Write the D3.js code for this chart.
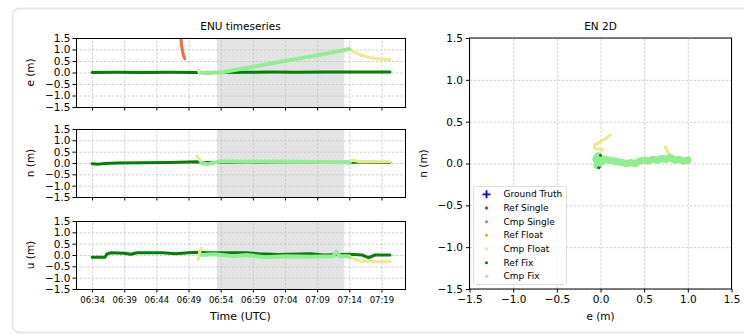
<!DOCTYPE html>
<html>
<head>
<meta charset="utf-8">
<script src="https://cdn.jsdelivr.net/npm/d3@7"></script>
<style>
  body { margin: 0; background: #fff; }
  svg { display: block; font-family: "DejaVu Sans", sans-serif; }
</style>
</head>
<body>
<svg id="chart" width="744" height="335"></svg>
<script>
// tick labels
const timeTicks = ["06:34:00", "06:39:00", "06:44:00", "06:49:00", "06:54:00", "06:59:00", "07:04:00", "07:09:00", "07:14:00", "07:19:00"];
const enuTicks = [1.5, 1.0, 0.5, 0.0, -0.5, -1.0, -1.5];
const en2dTicks = [-1.5, -1.0, -0.5, 0.0, 0.5, 1.0, 1.5];
const shadeSpan = ["06:53:24", "07:13:14"];

// east timeseries, null = gap
const refFixE = [["06:34:00", 0.0], ["06:38:00", 0.01], ["06:42:00", 0.0], ["06:46:00", 0.01], ["06:50:00", 0.0],
  ["06:54:00", 0.0], ["06:58:00", 0.01], ["07:02:00", 0.02], ["07:06:00", 0.01], ["07:10:00", 0.02], ["07:14:00", 0.02], ["07:20:20", 0.02]];
const cmpSingleE = [["06:47:45", 1.6], ["06:47:55", 1.2], ["06:48:05", 0.9], ["06:48:15", 0.7], ["06:48:25", 0.6]];
const cmpFloatE = [["06:50:30", 0.1], ["06:50:40", 0.0], ["06:50:50", -0.05], ["06:51:00", 0.0], null,
  ["07:14:10", 1.0], ["07:15:00", 0.85], ["07:16:00", 0.74], ["07:17:00", 0.66], ["07:18:00", 0.61], ["07:19:00", 0.58], ["07:20:20", 0.56]];
const cmpFixE = [["06:51:00", 0.0], ["06:52:00", -0.03], ["06:53:00", 0.0], ["06:54:00", 0.0],
  ["07:00:00", 0.3], ["07:05:00", 0.55], ["07:10:00", 0.8], ["07:14:00", 1.02]];

// north timeseries
const refFixN = [["06:34:00", -0.03], ["06:35:00", -0.05], ["06:36:00", -0.02], ["06:38:00", 0.0], ["06:42:00", 0.01],
  ["06:46:00", 0.02], ["06:49:00", 0.04], ["06:50:30", 0.05], ["06:51:00", 0.02], ["06:55:00", 0.02], ["07:00:00", 0.03],
  ["07:04:00", 0.05], ["07:08:00", 0.03], ["07:12:00", 0.02], ["07:14:00", 0.03], ["07:17:00", 0.03], ["07:20:20", 0.02]];
const cmpFloatN = [["06:50:20", 0.3], ["06:50:40", 0.15], ["06:51:00", 0.05], null,
  ["07:14:00", 0.05], ["07:14:30", 0.12], ["07:15:30", 0.06], ["07:20:20", 0.05]];
const cmpFixN = [["06:51:00", 0.0], ["06:52:00", -0.05], ["06:54:00", 0.08], ["06:58:00", 0.06], ["07:02:00", 0.07],
  ["07:06:00", 0.05], ["07:10:00", 0.04], ["07:13:30", 0.03], ["07:14:00", 0.0]];

// up timeseries
const refFixU = [["06:34:00", -0.1], ["06:36:00", -0.1], ["06:36:20", 0.05], ["06:37:00", 0.1], ["06:39:00", 0.08],
  ["06:40:00", 0.03], ["06:41:00", 0.1], ["06:45:00", 0.1], ["06:47:00", 0.05], ["06:49:00", 0.1], ["06:51:00", 0.12],
  ["06:52:00", 0.1], ["06:58:00", 0.1], ["07:00:00", 0.05], ["07:03:00", 0.02], ["07:08:00", 0.05], ["07:10:00", 0.0],
  ["07:14:00", 0.03], ["07:16:00", 0.0], ["07:17:00", -0.12], ["07:18:00", 0.0], ["07:20:20", 0.0]];
const cmpFloatU = [["06:50:30", -0.2], ["06:50:45", 0.15], ["06:51:00", 0.3], null,
  ["07:14:00", -0.1], ["07:15:00", -0.2], ["07:16:00", -0.3], ["07:17:00", -0.25], ["07:18:00", -0.3], ["07:20:20", -0.3]];
const cmpFixU = [["06:51:00", 0.0], ["06:53:00", 0.03], ["06:56:00", -0.05], ["06:58:00", 0.0], ["07:01:00", -0.1],
  ["07:04:00", -0.05], ["07:08:00", -0.08], ["07:11:30", -0.05], ["07:12:00", 0.15], ["07:12:30", -0.05], ["07:14:00", -0.05]];

// EN 2D points [e, n]
const groundTruthEN = [[0.0, 0.0]];
const cmpFixEN = [[-0.05, 0.05], [-0.03, 0.09], [0.0, 0.06], [-0.04, -0.02], [0.02, 0.03], [0.05, 0.05], [0.1, 0.04],
  [0.15, 0.03], [0.2, 0.02], [0.25, 0.01], [0.3, 0.0], [0.35, 0.01], [0.4, 0.0], [0.45, 0.03], [0.5, 0.04], [0.55, 0.03],
  [0.6, 0.05], [0.65, 0.04], [0.7, 0.06], [0.75, 0.05], [0.8, 0.07], [0.85, 0.04], [0.9, 0.05], [0.95, 0.03], [1.0, 0.04]];
const cmpFloatEN = [[0.11, 0.34], [0.05, 0.29], [-0.02, 0.25], [-0.07, 0.22], [-0.07, 0.18], [0.0, 0.17], [0.03, 0.16], null,
  [0.74, 0.2], [0.78, 0.12], [0.82, 0.08], [0.9, 0.03], [0.93, 0.0]];
const refFixEN = [[0.0, 0.1], [-0.02, -0.05]];

const legendNames = ["Ground Truth", "Ref Single", "Cmp Single", "Ref Float", "Cmp Float", "Ref Fix", "Cmp Fix"];
const legendColors = ["blue", "red", "tomato", "orange", "khaki", "green", "lightgreen"];

const svg = d3.select('#chart');
const parseT = d3.timeParse('%H:%M:%S');
const fmt = d => d3.format('.1f')(d).replace('-', '\u2212');

// card behind everything
svg.append('rect')
  .attr('x', 12.5).attr('y', 8.5).attr('width', 760).attr('height', 324)
  .attr('rx', 7).attr('fill', '#fff').attr('stroke', '#e5e7eb').attr('stroke-width', 2);

// grid style helper
function gridStyle(sel) {
  sel.select('.domain').remove();
  sel.selectAll('line').attr('stroke', '#c4c4c4').attr('stroke-width', 0.8).attr('stroke-dasharray', '2.5,1.5');
}
function labelStyle(size) {
  return sel => {
    sel.select('.domain').remove();
    sel.selectAll('text').attr('font-size', size).attr('font-family', 'DejaVu Sans').attr('fill', '#000');
  };
}

// shared time scale for the three stacked panels
const xTime = d3.scaleTime()
  .domain([parseT("06:31:30"), parseT("07:22:40")])
  .range([76, 405]);
const timeTickValues = timeTicks.map(parseT);

const panels = [
  { top: 38, bottom: 107, label: 'e (m)', ref: refFixE, series: [[cmpSingleE, 'tomato'], [cmpFloatE, 'khaki']], cmp: cmpFixE },
  { top: 129, bottom: 197, label: 'n (m)', ref: refFixN, series: [[cmpFloatN, 'khaki']], cmp: cmpFixN },
  { top: 221, bottom: 289, label: 'u (m)', ref: refFixU, series: [[cmpFloatU, 'khaki']], cmp: cmpFixU }
];

svg.append('defs').selectAll('clipPath')
  .data(panels).enter().append('clipPath')
  .attr('id', (d, i) => 'clip' + i)
  .append('rect')
  .attr('x', 76).attr('y', d => d.top).attr('width', 329).attr('height', d => d.bottom - d.top);

panels.forEach((p, i) => {
  const y = d3.scaleLinear().domain([-1.5, 1.5]).range([p.bottom, p.top]);
  const g = svg.append('g');

  // shaded span
  g.append('rect')
    .attr('x', xTime(parseT(shadeSpan[0])))
    .attr('y', p.top)
    .attr('width', xTime(parseT(shadeSpan[1])) - xTime(parseT(shadeSpan[0])))
    .attr('height', p.bottom - p.top)
    .attr('fill', '#e3e3e3');

  // grid
  g.append('g').attr('transform', `translate(0,${p.bottom})`)
    .call(d3.axisBottom(xTime).tickValues(timeTickValues).tickSize(-(p.bottom - p.top)).tickFormat(''))
    .call(gridStyle);
  g.append('g').attr('transform', 'translate(76,0)')
    .call(d3.axisLeft(y).tickValues(enuTicks).tickSize(-329).tickFormat(''))
    .call(gridStyle);

  const line = d3.line().defined(d => d !== null)
    .x(d => xTime(parseT(d[0]))).y(d => y(d[1]));
  const plot = g.append('g').attr('clip-path', `url(#clip${i})`);
  plot.append('path').attr('d', line(p.ref)).attr('fill', 'none')
    .attr('stroke', 'green').attr('stroke-width', 3).attr('stroke-linejoin', 'round').attr('stroke-linecap', 'round');
  p.series.forEach(([data, color]) => {
    plot.append('path').attr('d', line(data)).attr('fill', 'none')
      .attr('stroke', color).attr('stroke-width', 3).attr('stroke-linejoin', 'round').attr('stroke-linecap', 'round');
  });
  plot.append('path').attr('d', line(p.cmp)).attr('fill', 'none')
    .attr('stroke', 'lightgreen').attr('stroke-width', 4).attr('stroke-linejoin', 'round').attr('stroke-linecap', 'round');

  // axes
  g.append('g').attr('transform', 'translate(76,0)')
    .call(d3.axisLeft(y).tickValues(enuTicks).tickSize(3.5).tickPadding(2).tickFormat(fmt))
    .call(labelStyle(10.5));
  g.append('g').attr('transform', `translate(0,${p.bottom})`)
    .call(d3.axisBottom(xTime).tickValues(timeTickValues).tickSize(3.5).tickPadding(4)
      .tickFormat(i === 2 ? d3.timeFormat('%H:%M') : ''))
    .call(labelStyle(8.5));

  g.append('rect').attr('x', 76.5).attr('y', p.top + 0.5).attr('width', 329).attr('height', p.bottom - p.top)
    .attr('fill', 'none').attr('stroke', '#000').attr('stroke-width', 1);

  g.append('text').attr('transform', `translate(30,${(p.top + p.bottom) / 2}) rotate(-90)`)
    .attr('text-anchor', 'middle').attr('dy', '0.35em').attr('font-size', 10.5).text(p.label);
});

svg.append('text').attr('x', 240.5).attr('y', 30).attr('text-anchor', 'middle').attr('font-size', 10.5).text('ENU timeseries');
svg.append('text').attr('x', 240.5).attr('y', 320).attr('text-anchor', 'middle').attr('font-size', 11).text('Time (UTC)');

// EN 2D panel
const xE = d3.scaleLinear().domain([-1.5, 1.5]).range([469.5, 731.5]);
const yN = d3.scaleLinear().domain([-1.5, 1.5]).range([289, 38]);
const g2 = svg.append('g');

g2.append('g').attr('transform', 'translate(0,289)')
  .call(d3.axisBottom(xE).tickValues(en2dTicks).tickSize(-251).tickFormat(''))
  .call(gridStyle);
g2.append('g').attr('transform', 'translate(469.5,0)')
  .call(d3.axisLeft(yN).tickValues(en2dTicks).tickSize(-262).tickFormat(''))
  .call(gridStyle);

const line2 = d3.line().defined(d => d !== null).x(d => xE(d[0])).y(d => yN(d[1]));

g2.selectAll('.gt').data(groundTruthEN).enter().append('path')
  .attr('d', d => `M${xE(d[0]) - 4},${yN(d[1])}h8M${xE(d[0])},${yN(d[1]) - 4}v8`)
  .attr('stroke', 'blue').attr('stroke-width', 1.5);
g2.append('path').attr('d', line2(cmpFloatEN)).attr('fill', 'none').attr('stroke', 'khaki')
  .attr('stroke-width', 3).attr('stroke-linejoin', 'round').attr('stroke-linecap', 'round');
g2.append('path').attr('d', line2(cmpFixEN)).attr('fill', 'none').attr('stroke', 'lightgreen')
  .attr('stroke-width', 7).attr('stroke-linejoin', 'round').attr('stroke-linecap', 'round');
g2.selectAll('.cf').data(cmpFixEN).enter().append('circle')
  .attr('cx', d => xE(d[0])).attr('cy', d => yN(d[1])).attr('r', 3.5).attr('fill', 'lightgreen');
g2.selectAll('.rf').data(refFixEN).enter().append('circle')
  .attr('cx', d => xE(d[0])).attr('cy', d => yN(d[1])).attr('r', 1.5).attr('fill', 'green');

g2.append('g').attr('transform', 'translate(469.5,0)')
  .call(d3.axisLeft(yN).tickValues(en2dTicks).tickSize(3.5).tickPadding(3).tickFormat(fmt))
  .call(labelStyle(10.5));
g2.append('g').attr('transform', 'translate(0,289)')
  .call(d3.axisBottom(xE).tickValues(en2dTicks).tickSize(3.5).tickPadding(3).tickFormat(fmt))
  .call(labelStyle(10.5));
g2.append('rect').attr('x', 469.5).attr('y', 38).attr('width', 262).attr('height', 251)
  .attr('fill', 'none').attr('stroke', '#000').attr('stroke-width', 1);

svg.append('text').attr('x', 600.5).attr('y', 30).attr('text-anchor', 'middle').attr('font-size', 10.5).text('EN 2D');
svg.append('text').attr('x', 600.5).attr('y', 320).attr('text-anchor', 'middle').attr('font-size', 10.5).text('e (m)');
svg.append('text').attr('transform', 'translate(423,163.5) rotate(-90)').attr('text-anchor', 'middle')
  .attr('dy', '0.35em').attr('font-size', 10.5).text('n (m)');

// legend
const lg = svg.append('g');
lg.append('rect').attr('x', 473.5).attr('y', 186.5).attr('width', 93).attr('height', 98).attr('rx', 2)
  .attr('fill', '#fff').attr('fill-opacity', 0.8).attr('stroke', '#d6d6d6').attr('stroke-width', 0.8);
const items = lg.selectAll('.item').data(legendNames).enter().append('g')
  .attr('transform', (d, i) => `translate(486.5,${194.3 + i * 13.67})`);
items.each(function (d, i) {
  const it = d3.select(this);
  if (i === 0) {
    it.append('path').attr('d', 'M-4,0h8M0,-4v8').attr('stroke', legendColors[i]).attr('stroke-width', 1.8);
  } else {
    it.append('circle').attr('r', 1.5).attr('fill', legendColors[i]);
  }
  it.append('text').attr('x', 17).attr('dy', '0.35em').attr('font-size', 9).text(d);
});
</script>
</body>
</html>
